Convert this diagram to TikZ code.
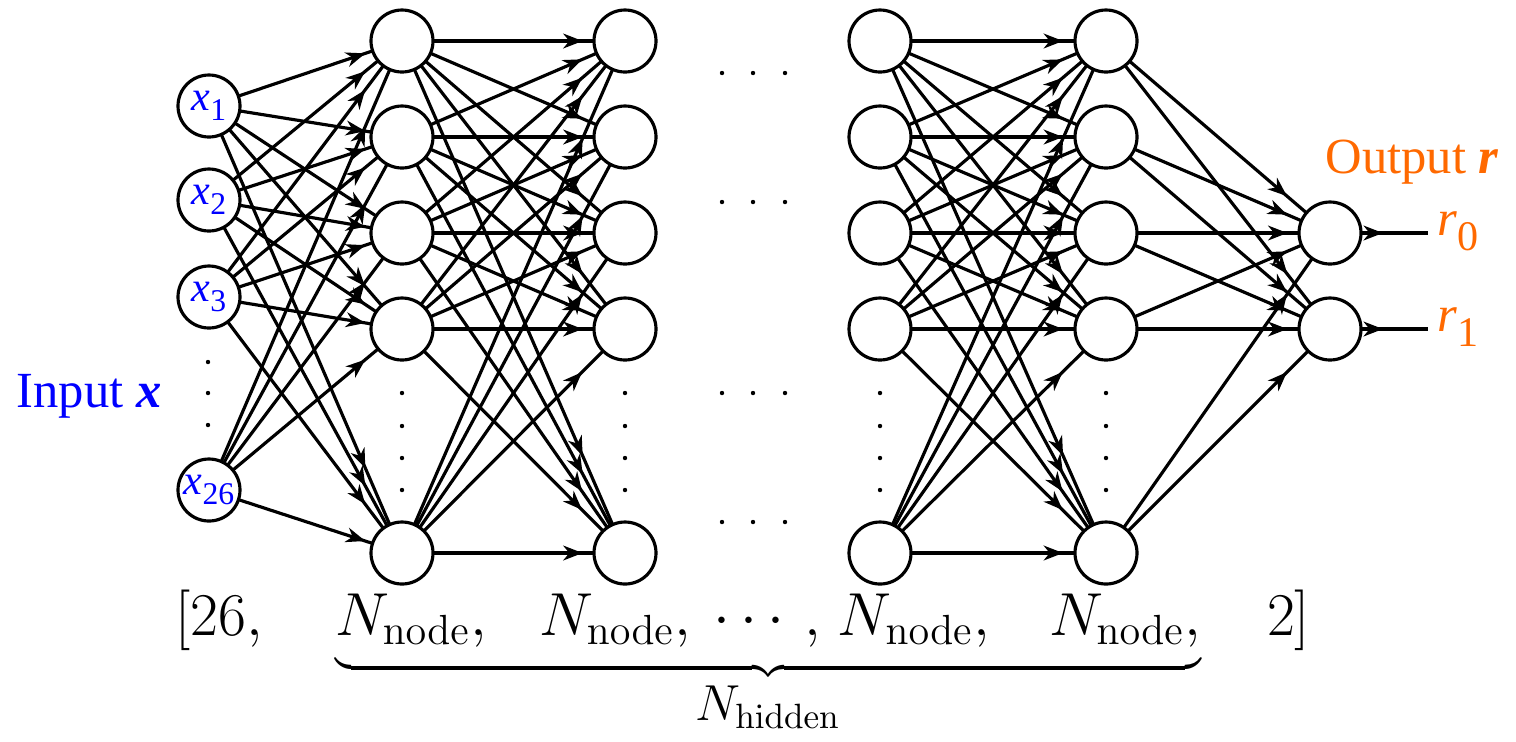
\documentclass[tikz,border=0pt]{standalone}
\usepackage[no-math]{fontspec}
\setmainfont{Liberation Serif}
\usepackage{tikz}
\usetikzlibrary{arrows.meta,decorations.markings,backgrounds}
\definecolor{inblue}{RGB}{0,0,255}
\definecolor{outorange}{RGB}{255,105,0}
\newcommand{\xin}[1]{\textit{x}\raisebox{-0.1cm}{\small #1}}
\newcommand{\rout}[1]{\textit{r}\raisebox{-0.15cm}{\large #1}}
\tikzset{
	neuron/.style={circle, draw, line width=0.9pt, fill=white, minimum size=0.62cm, inner sep=0pt},
	conn/.style={line width=0.9pt, postaction={decorate},
		decoration={markings, mark=at position #1 with {\arrow{Stealth[length=5.5pt,width=4.2pt,inset=1.7pt]}}}},
	conn/.default=0.81
}

\begin{document}
\begin{tikzpicture}
	\useasboundingbox (0,0) rectangle (15.16,-7.41);
	\foreach \i/\y/\s in {1/1.06/1, 2/2.00/2, 3/2.97/3, 4/4.90/26}
		\node[neuron, text=inblue, font=\large] (in\i) at (2.09,-\y) {\xin{\s}};
	\foreach \l/\x in {A/4.02, B/6.25, C/8.80, D/11.06}
		\foreach \r/\y in {1/0.41, 2/1.37, 3/2.33, 4/3.29, 5/5.53}
			\node[neuron] (\l\r) at (\x,-\y) {};
	\node[neuron] (O1) at (13.30,-2.33) {};
	\node[neuron] (O2) at (13.30,-3.29) {};
	\node[anchor=base west, inner xsep=0.09cm, inner ysep=0pt, text=outorange, font=\Large] (r0) at (14.28,-2.35) {\rout{0}};
	\node[anchor=base west, inner xsep=0.09cm, inner ysep=0pt, text=outorange, font=\Large] (r1) at (14.28,-3.31) {\rout{1}};
	\node[anchor=base west, inner sep=0pt, text=inblue, font=\Large] (inlabel) at (0.16,-4.07) {Input \textbf{\textit{x}}};
	\node[anchor=base west, inner sep=0pt, text=outorange, font=\Large] (outlabel) at (13.25,-1.73) {Output \textbf{\textit{r}}};
	\begin{scope}[on background layer]
		\foreach \i in {1,...,4} \foreach \j in {1,...,5} \draw[conn] (in\i.center) -- (A\j.center);
		\foreach \i in {1,...,5} \foreach \j in {1,...,5} {
			\draw[conn] (A\i.center) -- (B\j.center);
			\draw[conn] (C\i.center) -- (D\j.center);
		}
		\foreach \i in {1,...,5} \foreach \j in {1,2} \draw[conn] (D\i.center) -- (O\j.center);
		\draw[conn=0.54] (O1.center) -- (O1 -| r0.west);
		\draw[conn=0.54] (O2.center) -- (O2 -| r1.west);
	\end{scope}
	\foreach \y in {3.62, 3.93, 4.25} \fill (2.08,-\y) circle (0.022);
	\foreach \x in {4.02, 6.25, 8.80, 11.06} \foreach \y in {3.93, 4.26, 4.58, 4.90} \fill (\x,-\y) circle (0.022);
	\foreach \x in {7.22, 7.53, 7.85} \foreach \y in {0.73, 2.02, 3.93, 5.22} \fill (\x,-\y) circle (0.022);
	\node[anchor=base west, inner sep=0pt, font=\LARGE] (dims) at (1.75,-6.35)
		{$[26,\hspace{0.62cm}\underbrace{\rule[-0.2cm]{0pt}{0pt}N_{\mathrm{node}},\hspace{0.42cm}N_{\mathrm{node}},\hspace{0.12cm}\cdots\,,\hspace{0.07cm}N_{\mathrm{node}},\hspace{0.49cm}N_{\mathrm{node}},}_{\mbox{\Large$N_{\mathrm{hidden}}$}}\hspace{0.56cm}2]$};
\end{tikzpicture}
\end{document}
